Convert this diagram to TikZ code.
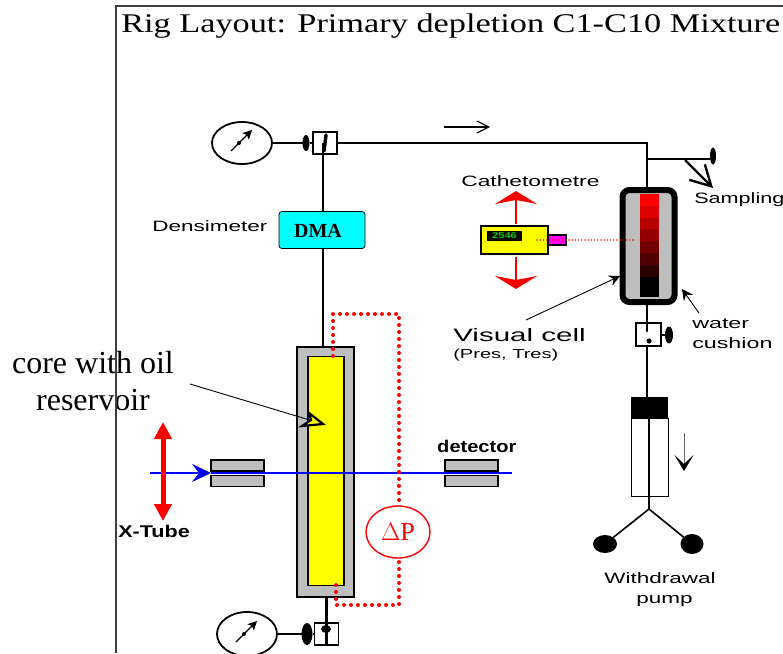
\documentclass[tikz,border=0pt]{standalone}
\usepackage{fontspec}
\setmainfont{Liberation Serif}
\setsansfont{Liberation Sans}
\usetikzlibrary{arrows.meta,shapes.geometric}
\definecolor{cellgray}{RGB}{190,190,190}
\definecolor{dmacyan}{RGB}{0,255,255}
\definecolor{lensmag}{RGB}{255,0,255}
\definecolor{coreyellow}{RGB}{255,255,0}
\definecolor{puregreen}{RGB}{0,200,0}
\definecolor{purered}{RGB}{255,0,0}
\definecolor{pureblue}{RGB}{0,0,255}
\tikzset{
  pipe/.style={line width=2.8pt},
  box/.style={draw,line width=1.7pt,inner sep=0pt,outer sep=0pt},
  valvebox/.style={box,fill=white,minimum width=24pt,minimum height=22pt},
  gauge/.style={draw,ellipse,line width=1.8pt,fill=white,inner sep=0pt,outer sep=0pt},
  knob/.style={ellipse,fill=black,inner sep=0pt,outer sep=0pt},
  slit/.style={box,fill=cellgray,minimum width=53pt,minimum height=11pt},
  lbl/.style={font=\sffamily\fontsize{15}{20}\selectfont,inner sep=0pt,anchor=west,align=left},
  lblb/.style={font=\sffamily\bfseries\fontsize{17}{20}\selectfont,inner sep=0pt,anchor=west},
  dots/.style={purered,line width=4pt,line cap=round,dash pattern=on 0pt off 7pt},
  redarrow/.style={purered,line width=2.4pt,-{Stealth[length=13pt,width=42pt,inset=4pt]}},
}
\begin{document}
\begin{tikzpicture}[x=1pt,y=-1pt]
  \useasboundingbox (0,0) rectangle (783,653);
  \clip (0,0) rectangle (783,653);

  \node[font=\fontsize{27}{30}\selectfont,anchor=base west,inner sep=0pt,xscale=1.27] (title) at (121,32)
    {Rig Layout: Primary depletion C1-C10 Mixture};

  % left column
  \node[gauge,minimum width=60pt,minimum height=42pt] (gaugetop) at (242,143) {};
  \node[valvebox] (valvetop) at (325,143) {};
  \node[knob,minimum width=7pt,minimum height=16pt] (knobtop) at (306,143) {};
  \node[box,fill=dmacyan,rounded corners=3pt,line width=0.8pt,minimum width=86pt,minimum height=37pt] (dma) at (322,230) {};
  \node[font=\bfseries\fontsize{20}{22}\selectfont,inner sep=0pt] (dmatext) at (318,231) {DMA};
  \node[box,fill=cellgray,minimum width=57pt,minimum height=250pt] (core) at (325.5,472) {};
  \node[box,fill=coreyellow,minimum width=36pt,minimum height=229pt] (oil) at (326,471) {};
  \node[gauge,minimum width=60pt,minimum height=44pt] (gaugelow) at (247,634) {};
  \node[valvebox,minimum height=22pt] (valvelow) at (326.5,634) {};
  \node[knob,minimum width=11pt,minimum height=22pt] (knoblow) at (307,634) {};

  \draw[pipe] (gaugetop) -- (knobtop) -- (valvetop.west);
  \draw[pipe] (valvetop.center -| dma.north) ++(1,0) coordinate (teetop) -- (dma.north -| teetop);
  \draw[pipe] (dma.south -| teetop) -- (core.north -| teetop);
  \draw[pipe] (gaugelow) -- (knoblow) -- (valvelow.west);
  \draw[pipe] (core.south -| valvelow) -- (valvelow.south);
  \fill (326,629) ellipse (5pt and 4pt);
  \draw[line width=3.4pt,line cap=round] (326,135) -- (324,151);

  % needles
  \foreach \gx/\gy in {242/143, 247/634} {
    \draw[line width=1.1pt,-{Stealth[length=9pt,width=9pt,inset=2pt]}] (\gx-11,\gy+8) -- (\gx+10,\gy-13);
    \fill (\gx-3,\gy) circle (2pt);
  }

  % right column
  \coordinate (topcorner) at (647,143);
  \node[box,draw=black,line width=6pt,fill=cellgray,rounded corners=7pt,minimum width=52pt,minimum height=112pt] (cell) at (648.5,246) {};
  \foreach \i/\r in {0/255,1/220,2/185,3/150,4/115,5/80,6/45} {
    \definecolor{stepcol}{RGB}{\r,0,0}
    \fill[stepcol] (640,194+\i*11.8) rectangle (659,206+\i*11.8);
  }
  \fill[black] (640,276.5) rectangle (659,297);

  \draw[pipe] (valvetop.east) -- (topcorner) -- (cell.north -| topcorner);
  \node[knob,minimum width=6pt,minimum height=17pt] (knobsample) at (713,156) {};
  \coordinate (sampletee) at (647,159);
  \draw[pipe] (sampletee) -- (knobsample.center |- sampletee);
  \coordinate (samplestart) at (685,160);
  \coordinate (sampleend) at (713,188);
  \draw[line width=2.4pt,-{Straight Barb[length=20pt,width=22pt]}] (samplestart) -- (sampleend);

  \node[valvebox,minimum width=25pt,minimum height=23pt] (valvewater) at (648.5,334.5) {};
  \node[knob,minimum width=8pt,minimum height=17pt] (knobwater) at (669,335) {};
  \draw[pipe] (valvewater.east |- knobwater) -- (knobwater);
  \node[minimum width=37pt,minimum height=21pt,fill=black,inner sep=0pt] (piston) at (649.5,407.5) {};
  \node[draw,line width=0.9pt,minimum width=37pt,minimum height=78pt,inner sep=0pt,outer sep=0pt,anchor=north] (barrel) at (piston.south) {};
  \coordinate (fork) at (649,509);
  \node[knob,minimum width=24pt,minimum height=18pt] (blobleft) at (605,544) {};
  \node[knob,minimum width=23pt,minimum height=20pt] (blobright) at (692,544) {};
  \draw[pipe] (cell.south -| topcorner) -- (valvewater.north -| topcorner);
  \draw[pipe,line cap=round] (647,323) -- (647,331);
  \fill (649,341) circle (2.6pt);
  \draw[pipe] (valvewater.south -| topcorner) -- (piston.north -| topcorner);
  \draw[line width=1.6pt] (piston.south -| fork) -- (fork);
  \draw[line width=1.6pt] (blobleft) -- (fork) -- (blobright);

  \coordinate (pullstart) at (684,433);
  \coordinate (pullend) at (684,471);
  \draw[line width=1pt,black!60,-{Stealth[black,length=16pt,width=19pt,inset=9pt]}] (pullstart) -- (pullend);

  % flow arrow
  \coordinate (flowstart) at (444,127);
  \coordinate (flowend) at (490,127);
  \draw[line width=1.1pt,-{Straight Barb[length=12pt,width=12pt]}] (flowstart) -- (flowend);

  % cathetometre
  \node[box,fill=coreyellow,minimum width=67pt,minimum height=28pt] (cathe) at (514.5,240) {};
  \node[fill=black,text=puregreen,minimum width=27pt,minimum height=10pt,inner sep=0pt,
    font=\sffamily\bfseries\fontsize{8.5}{9}\selectfont,xscale=1.3] (display) at (504.5,236) {2546};
  \node[box,fill=lensmag,minimum width=18pt,minimum height=10pt] (lens) at (557,240) {};
  \coordinate (beamstart) at (537,240);
  \coordinate (beamend) at (634,240);
  \draw[purered,line width=1.6pt,line cap=round,dash pattern=on 0pt off 3.2pt] (beamstart) -- (beamend);
  \coordinate (upstart) at (516,224);
  \coordinate (upend) at (516,191);
  \coordinate (downstart) at (516,257);
  \coordinate (downend) at (516,289);
  \draw[redarrow] (upstart) -- (upend);
  \draw[redarrow] (downstart) -- (downend);

  % beam
  \node[slit] (slitla) at (237.5,465.5) {};
  \node[slit] (slitlb) at (237.5,481) {};
  \node[slit] (detua) at (471.5,465.5) {};
  \node[slit] (detub) at (471.5,481) {};
  \coordinate (beamleft) at (150,473);
  \coordinate (beamright) at (512,473);
  \draw[pureblue,line width=2.4pt,-{Stealth[length=19pt,width=18pt,inset=7pt]}] (beamleft) -- (slitla.west |- beamleft);
  \draw[pureblue,line width=2.4pt] (slitla.west |- beamleft) -- (beamright);

  \coordinate (tubetop) at (163,422);
  \coordinate (tubelow) at (163,521);
  \draw[purered,line width=5pt,{Stealth[length=17pt,width=17pt,inset=0pt]}-{Stealth[length=17pt,width=17pt,inset=0pt]}] (tubetop) -- (tubelow);

  % pressure tapping
  \node[draw=purered,ellipse,line width=1.4pt,text=purered,minimum width=64pt,minimum height=52pt,inner sep=0pt,
    font=\fontsize{26}{28}\selectfont] (deltap) at (398,532) {$\Delta$P};
  \coordinate (tapa) at (333,356);
  \coordinate (tapb) at (336,584);
  \draw[dots] (tapa) -- (333,314) -- (399,314) -- (399,503);
  \draw[dots] (399,562) -- (399,605) -- (336,605) -- (tapb);

  % pointers
  \coordinate (cellfrom) at (526,320);
  \coordinate (cellto) at (620,276);
  \coordinate (waterfrom) at (699,313);
  \coordinate (waterto) at (682,289);
  \coordinate (corefrom) at (190,384);
  \coordinate (coreto) at (323,424);
  \draw[line width=0.9pt,-{Stealth[length=11pt,width=11pt,inset=4pt]}] (cellfrom) -- (cellto);
  \draw[line width=0.9pt,-{Stealth[length=11pt,width=11pt,inset=4pt]}] (waterfrom) -- (waterto);
  \draw[line width=0.9pt] (corefrom) -- (coreto);
  \draw[line width=2.2pt,fill=coreyellow,line join=miter] (309,413) -- (coreto) -- (302,426) -- (311,420) -- cycle;

  % labels
  \node[font=\fontsize{32}{37}\selectfont,align=center,inner sep=0pt] (corelbl) at (93,381) {core with oil\\reservoir};
  \draw[line width=2pt,black!75] (783,6) -- (116,6) -- (116,653);
  \node[lbl,xscale=1.5] (densilbl) at (152,226) {Densimeter};
  \node[lbl,xscale=1.52] (cathelbl) at (461,181) {Cathetometre};
  \node[lbl,xscale=1.44] (samplelbl) at (694,200) {Sampling};
  \node[lbl,xscale=1.64,font=\sffamily\fontsize{18}{20}\selectfont] (visuallbl) at (453,335) {Visual cell};
  \node[lbl,xscale=1.54,font=\sffamily\fontsize{13}{20}\selectfont] (preslbl) at (453,355) {(Pres, Tres)};
  \node[lbl,xscale=1.55] (waterlbl) at (692,334) {water\\cushion};
  \node[lblb,xscale=1.18] (detlbl) at (437,446) {detector};
  \node[lblb,xscale=1.27] (xtubelbl) at (118,531) {X-Tube};
  \node[lbl,xscale=1.5,align=center,anchor=center] (pumplbl) at (660,590) {Withdrawal\\\hspace{6pt}pump};
\end{tikzpicture}
\end{document}
